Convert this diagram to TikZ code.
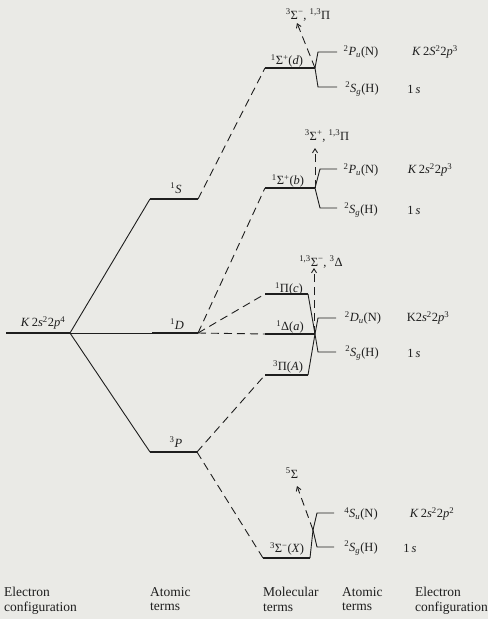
\documentclass[tikz,border=0pt]{standalone}
\usepackage{fontspec}
\setmainfont{Liberation Serif}
\usetikzlibrary{arrows.meta}
\definecolor{bg}{RGB}{234,234,230}
\definecolor{ink}{RGB}{30,30,30}
\newcommand\up[1]{\textsuperscript{#1}}
\newcommand\dn[1]{\textsubscript{#1}}
\begin{document}
\begin{tikzpicture}[x=1pt,y=-1pt,
  level/.style={draw=ink,line width=1.6pt},
  conn/.style={draw=ink,line width=0.9pt},
  dconn/.style={draw=ink,line width=0.9pt,dash pattern=on 8pt off 5pt},
  darrow/.style={dconn,-{Straight Barb[length=4pt,width=5pt]}},
  lbl/.style={text=ink,font=\fontsize{12.5}{14}\selectfont,inner sep=0pt},
  foot/.style={text=ink,font=\fontsize{13.5}{14.5}\selectfont,align=left,anchor=north west,inner sep=0pt}]
\fill[bg] (0,0) rectangle (488,619);
\useasboundingbox (0,0) rectangle (488,619);
% coordinates of levels
\coordinate (Kl) at (6,333);   \coordinate (Kr) at (70,333);
\coordinate (Sl) at (150,199); \coordinate (Sr) at (198,199);
\coordinate (Dl) at (152,333); \coordinate (Dr) at (198,333);
\coordinate (Pl) at (150,452); \coordinate (Pr) at (197,452);
\coordinate (dl) at (265,68);  \coordinate (dr) at (315,68);
\coordinate (bl) at (265,188); \coordinate (br) at (315,188);
\coordinate (cl) at (265,294); \coordinate (cr) at (308,294);
\coordinate (al) at (265,334); \coordinate (ar) at (315,334);
\coordinate (Al) at (265,375); \coordinate (Ar) at (308,375);
\coordinate (Xl) at (263,558); \coordinate (Xr) at (310,558);
\coordinate (Xj) at (313,530);
% branch ends
\coordinate (dN1) at (318,52);  \coordinate (dN2) at (337,52);
\coordinate (dH1) at (318,87);  \coordinate (dH2) at (337,87);
\coordinate (bN1) at (320,169); \coordinate (bN2) at (337,169);
\coordinate (bH1) at (320,208); \coordinate (bH2) at (337,208);
\coordinate (aN1) at (318,318); \coordinate (aN2) at (336,318);
\coordinate (aH1) at (318,352); \coordinate (aH2) at (336,352);
\coordinate (xN1) at (317,513); \coordinate (xN2) at (334,513);
\coordinate (xH1) at (317,547); \coordinate (xH2) at (334,547);
% arrow tips
\coordinate (dT) at (297,23);
\coordinate (bT) at (315,148);
\coordinate (aT) at (314,268);
\coordinate (xT) at (297,486);
\coordinate (aB) at (314,334);
% levels
\draw[level] (Kl) -- (Kr);
\draw[level] (Sl) -- (Sr);
\draw[level] (Dl) -- (Dr);
\draw[level] (Pl) -- (Pr);
\draw[level] (dl) -- (dr);
\draw[level] (bl) -- (br);
\draw[level] (cl) -- (cr);
\draw[level] (al) -- (ar);
\draw[level] (Al) -- (Ar);
\draw[level] (Xl) -- (Xr);
% solid connectors
\draw[conn] (Kr) -- (Sl);
\draw[conn] (Kr) -- (Dl);
\draw[conn] (Kr) -- (Pl);
\draw[conn] (cr) -- (ar);
\draw[conn] (Ar) -- (ar);
% dashed connectors
\draw[dconn] (Sr) -- (dl);
\draw[dconn] (Dr) -- (bl);
\draw[dconn] (Dr) -- (cl);
\draw[dconn] (Dr) -- (al);
\draw[dconn] (Pr) -- (Al);
\draw[dconn] (Pr) -- (Xl);
% branches to atoms
\draw[conn] (dr) -- (dN1) -- (dN2);
\draw[conn] (dr) -- (dH1) -- (dH2);
\draw[conn] (br) -- (bN1) -- (bN2);
\draw[conn] (br) -- (bH1) -- (bH2);
\draw[conn] (ar) -- (aN1) -- (aN2);
\draw[conn] (ar) -- (aH1) -- (aH2);
\draw[conn] (Xr) -- (Xj) -- (xN1) -- (xN2);
\draw[conn] (Xj) -- (xH1) -- (xH2);
% dashed arrows
\draw[darrow] (dr) -- (dT);
\draw[darrow] (br) -- (bT);
\draw[darrow] (aB) -- (aT);
\draw[darrow] (Xj) -- (xT);
% labels
\node[lbl] (tK) at (43,323) {\textit{K}\,2\textit{s}\up{2}2\textit{p}\up{4}};
\node[lbl] (tS) at (176,188) {\up{1}\textit{S}};
\node[lbl] (tD) at (177,324) {\up{1}\textit{D}};
\node[lbl] (tP) at (176,442) {\up{3}\textit{P}};
\node[lbl] (td) at (287,61) {\up{1}Σ\up{+}(\textit{d})};
\node[lbl] (tdu) at (308,15) {\up{3}Σ\up{−}, \up{1,3}Π};
\node[lbl] (tdN) at (361,52) {\up{2}\textit{P}\dn{\textit{u}}(N)};
\node[lbl] (tdE) at (435,52) {\textit{K}\,2\textit{S}\up{2}2\textit{p}\up{3}};
\node[lbl] (tdH) at (362,89) {\up{2}\textit{S}\dn{\textit{g}}(H)};
\node[lbl] (tdh) at (414,89) {1\,\textit{s}};
\node[lbl] (tb) at (288,181) {\up{1}Σ\up{+}(\textit{b})};
\node[lbl] (tbu) at (327,136) {\up{3}Σ\up{+}, \up{1,3}Π};
\node[lbl] (tbN) at (361,170) {\up{2}\textit{P}\dn{\textit{u}}(N)};
\node[lbl] (tbE) at (430,170) {\textit{K}\,2\textit{s}\up{2}2\textit{p}\up{3}};
\node[lbl] (tbH) at (361,210) {\up{2}\textit{S}\dn{\textit{g}}(H)};
\node[lbl] (tbh) at (414,210) {1\,\textit{s}};
\node[lbl] (tau) at (321,262) {\up{1,3}Σ\up{−}, \up{3}Δ};
\node[lbl] (tc) at (289,289) {\up{1}Π(\textit{c})};
\node[lbl] (ta) at (290,327) {\up{1}Δ(\textit{a})};
\node[lbl] (taN) at (363,318) {\up{2}\textit{D}\dn{\textit{u}}(N)};
\node[lbl] (taE) at (428,318) {K2\textit{s}\up{2}2\textit{p}\up{3}};
\node[lbl] (taH) at (362,353) {\up{2}\textit{S}\dn{\textit{g}}(H)};
\node[lbl] (tah) at (414,353) {1\,\textit{s}};
\node[lbl] (tA) at (288,367) {\up{3}Π(\textit{A})};
\node[lbl] (txu) at (292,473) {\up{5}Σ};
\node[lbl] (txN) at (361,514) {\up{4}\textit{S}\dn{\textit{u}}(N)};
\node[lbl] (txE) at (432,514) {\textit{K}\,2\textit{s}\up{2}2\textit{p}\up{2}};
\node[lbl] (txH) at (361,548) {\up{2}\textit{S}\dn{\textit{g}}(H)};
\node[lbl] (txh) at (410,548) {1\,\textit{s}};
\node[lbl] (tX) at (287,549) {\up{3}Σ\up{−}(\textit{X})};
% footer
\node[foot] (f1) at (4,587) {Electron\\configuration};
\node[foot] (f2) at (150,587) {Atomic\\terms};
\node[foot] (f3) at (263,587) {Molecular\\terms};
\node[foot] (f4) at (342,587) {Atomic\\terms};
\node[foot] (f5) at (415,587) {Electron\\configuration};
\end{tikzpicture}
\end{document}
